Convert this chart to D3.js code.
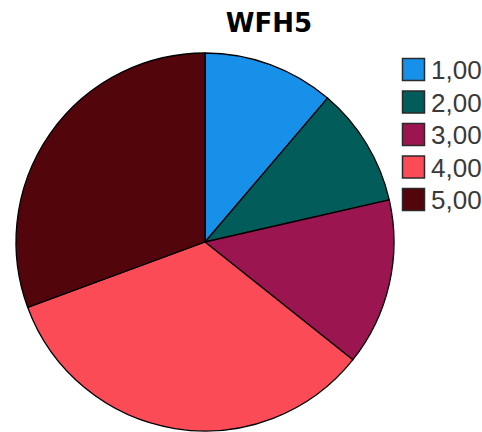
<!DOCTYPE html>
<html>
<head>
<meta charset="utf-8">
<script src="https://cdn.jsdelivr.net/npm/d3@7"></script>
<style>
  html, body { margin: 0; padding: 0; background: #fff; }
  svg { display: block; }
</style>
</head>
<body>
<svg id="chart" width="482" height="432"></svg>
<script>
// WFH5 response categories and their counts
const categories = ["1,00", "2,00", "3,00", "4,00", "5,00"];
const counts = [11, 10, 14, 33, 30];
const colors = ["#1690E8", "#015C5A", "#9B1651", "#FA4B57", "#52050A"];
const title = "WFH5";

const svg = d3.select("#chart");
const cx = 205, cy = 242, radius = 189;

const data = categories.map((c, i) => ({ label: c, value: counts[i] }));

const color = d3.scaleOrdinal().domain(categories).range(colors);

const pie = d3.pie()
  .value(d => d.value)
  .sort(null)
  .startAngle(0)
  .endAngle(2 * Math.PI);

const arc = d3.arc().innerRadius(0).outerRadius(radius);

const g = svg.append("g").attr("transform", `translate(${cx},${cy})`);

g.selectAll("path")
  .data(pie(data))
  .join("path")
  .attr("d", arc)
  .attr("fill", d => color(d.data.label))
  .attr("stroke", "#000")
  .attr("stroke-width", 1.3)
  .attr("stroke-linejoin", "round");

// Title
svg.append("text")
  .attr("x", 269)
  .attr("y", 32)
  .attr("text-anchor", "middle")
  .attr("font-family", "DejaVu Sans, Verdana, sans-serif")
  .attr("font-weight", "bold")
  .attr("font-size", 26)
  .attr("fill", "#000")
  .text(title);

// Legend
const legend = svg.append("g").attr("transform", "translate(402,58)");
const step = 32.5;
const items = legend.selectAll("g")
  .data(categories)
  .join("g")
  .attr("transform", (d, i) => `translate(0,${i * step})`);

items.append("rect")
  .attr("x", 0.5)
  .attr("y", 0.5)
  .attr("width", 22)
  .attr("height", 22)
  .attr("fill", d => color(d))
  .attr("stroke", "#2a2a2a")
  .attr("stroke-width", 1.5);

items.append("text")
  .attr("x", 29)
  .attr("y", 21)
  .attr("font-family", "Liberation Sans, Arial, sans-serif")
  .attr("font-size", 26)
  .attr("fill", "#3a3a3a")
  .text(d => d);
</script>
</body>
</html>
